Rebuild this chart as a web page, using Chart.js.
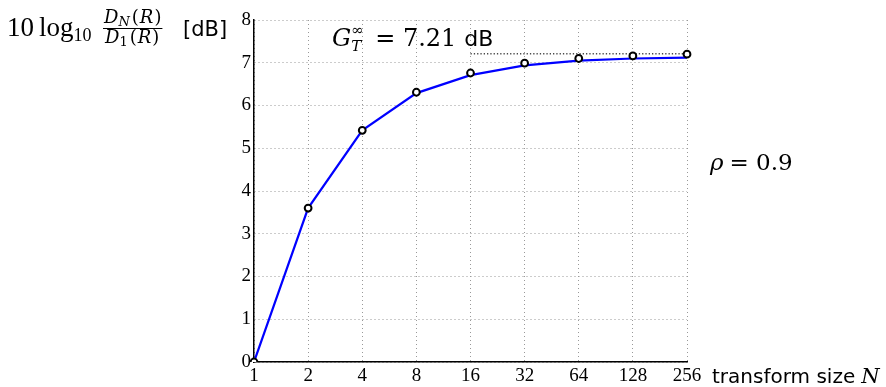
<!DOCTYPE html>
<html>
<head>
<meta charset="utf-8">
<script src="https://cdn.jsdelivr.net/npm/chart.js@4/dist/chart.umd.min.js"></script>
<style>
  html, body { margin: 0; padding: 0; background: #fff; }
  #wrap { position: relative; width: 886px; height: 387px; }
</style>
</head>
<body>
<div id="wrap"><canvas id="gainChart"></canvas></div>
<script>
// transform size N (log2 spaced)
const sizes = ['1', '2', '4', '8', '16', '32', '64', '128', '256'];
// measured gain (circles)
const gainMarks = [0, 3.60, 5.42, 6.31, 6.76, 6.99, 7.10, 7.16, 7.20];
// model curve (blue line)
const gainCurve = [0, 3.60, 5.42, 6.29, 6.71, 6.94, 7.05, 7.10, 7.12];
// asymptote G_T^inf, drawn from N = 16 on
const gainLimit = 7.21;
const limitFrom = 4;
const yTicks = [0, 1, 2, 3, 4, 5, 6, 7, 8];

const limitLine = sizes.map((s, i) => i >= limitFrom ? gainLimit : null);

const tickSerif = '"Liberation Serif", "DejaVu Serif", serif';
const serif = '"DejaVu Serif", "Liberation Serif", serif';
const sans = '"DejaVu Sans", "Liberation Sans", sans-serif';

// Beschriftungen, die kein Achsentitel sind
const labelsPlugin = {
    id: 'labels',
    afterDraw(chart) {
        const ctx = chart.ctx;
        ctx.save();
        ctx.fillStyle = '#000';
        ctx.textBaseline = 'alphabetic';

        // y-Beschriftung: 10 log10 DN(R)/D1(R) [dB]
        let x = 7, y = 36;
        ctx.font = '27px ' + tickSerif;
        ctx.fillText('10', x, y); x += ctx.measureText('10').width + 5;
        ctx.fillText('log', x, y); x += ctx.measureText('log').width;
        ctx.font = '18px ' + tickSerif;
        ctx.fillText('10', x, y + 5);
        // Bruch
        x = 104;
        const fs = '18px ', ss = '13px ';
        let fx = x;
        const ny = y - 13, dy = y + 7;
        ctx.font = 'italic ' + fs + serif; ctx.fillText('D', fx, ny); fx += ctx.measureText('D').width;
        ctx.font = 'italic ' + ss + serif; ctx.fillText('N', fx, ny + 3); fx += ctx.measureText('N').width + 2;
        ctx.font = fs + serif; ctx.fillText('(', fx, ny); fx += ctx.measureText('(').width + 1;
        ctx.font = 'italic ' + fs + serif; ctx.fillText('R', fx, ny); fx += ctx.measureText('R').width + 1;
        ctx.font = fs + serif; ctx.fillText(')', fx, ny); fx += ctx.measureText(')').width;
        const fracW = fx - x;
        ctx.fillRect(x - 1, y - 8, fracW + 2, 1);
        fx = x + 1;
        ctx.font = 'italic ' + fs + serif; ctx.fillText('D', fx, dy); fx += ctx.measureText('D').width;
        ctx.font = ss + serif; ctx.fillText('1', fx, dy + 3); fx += ctx.measureText('1').width + 2;
        ctx.font = fs + serif; ctx.fillText('(', fx, dy); fx += ctx.measureText('(').width + 1;
        ctx.font = 'italic ' + fs + serif; ctx.fillText('R', fx, dy); fx += ctx.measureText('R').width + 1;
        ctx.font = fs + serif; ctx.fillText(')', fx, dy);
        ctx.font = '21px ' + sans;
        ctx.fillText('[dB]', 183, y);

        // G_T^inf = 7.21 dB
        x = 332; y = 46;
        ctx.font = 'italic 24px ' + serif;
        ctx.fillText('G', x, y); x += ctx.measureText('G').width;
        ctx.font = '15px ' + serif; ctx.fillText('\u221e', x, y - 11);
        ctx.font = 'italic 15px ' + serif; ctx.fillText('T', x, y + 5);
        x += 24;
        ctx.font = '24px ' + serif;
        ctx.fillText('= 7.21', x, y); x += ctx.measureText('= 7.21').width + 8;
        ctx.font = '22px ' + sans;
        ctx.fillText('dB', x, y);

        // rho = 0.9
        x = 710; y = 170;
        ctx.font = 'italic 23px ' + serif;
        ctx.fillText('\u03c1', x, y); x += ctx.measureText('\u03c1').width + 6;
        ctx.font = '23px ' + serif;
        ctx.fillText('= 0.9', x, y);

        // transform size N
        x = 712; y = 383;
        ctx.font = '20px ' + sans;
        ctx.fillText('transform size', x, y); x += ctx.measureText('transform size').width + 6;
        ctx.font = 'italic 21px ' + serif;
        ctx.fillText('N', x, y);
        ctx.restore();
    }
};

new Chart(document.getElementById('gainChart').getContext('2d'), {
    type: 'line',
    data: {
        labels: sizes,
        datasets: [
            {
                data: gainMarks,
                showLine: false,
                pointStyle: 'circle',
                pointRadius: 3.4,
                pointBorderWidth: 2,
                pointBorderColor: '#000',
                pointBackgroundColor: '#fff',
                order: 0
            },
            {
                data: gainCurve,
                borderColor: '#0000ff',
                borderWidth: 2.2,
                pointRadius: 0,
                tension: 0,
                order: 1
            },
            {
                data: limitLine,
                borderColor: '#4a4a4a',
                borderWidth: 1.3,
                borderDash: [1.3, 2],
                pointRadius: 0,
                order: 2
            }
        ]
    },
    options: {
        responsive: true,
        maintainAspectRatio: false,
        animation: false,
        layout: { padding: { left: 0, right: 199, top: 20, bottom: 0 } },
        plugins: { legend: { display: false }, tooltip: { enabled: false } },
        scales: {
            x: {
                type: 'category',
                offset: false,
                afterFit: s => { s.height = 25; },
                grid: { color: '#999', drawTicks: false, lineWidth: 1 },
                border: { display: true, color: '#000', width: 1.5, dash: [1, 3] },
                ticks: { color: '#000', padding: 3, maxRotation: 0, font: { family: tickSerif, size: 19 } }
            },
            y: {
                min: 0,
                max: 8,
                afterFit: s => { s.width = 254; },
                afterBuildTicks: s => { s.ticks = yTicks.map(v => ({ value: v })); },
                grid: { color: '#999', drawTicks: false, lineWidth: 1 },
                border: { display: true, color: '#000', width: 1.5, dash: [1, 3] },
                ticks: { color: '#000', padding: 3, font: { family: tickSerif, size: 19 } }
            }
        }
    },
    plugins: [labelsPlugin]
});
</script>
</body>
</html>
